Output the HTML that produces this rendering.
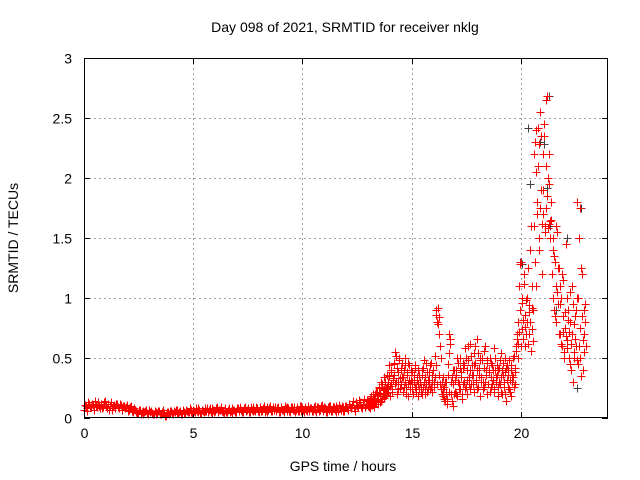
<!DOCTYPE html>
<html><head><meta charset="utf-8"><style>
body{margin:0;background:#fff}
svg{display:block;font-family:"Liberation Sans",sans-serif}
</style></head><body>
<svg id="chart" width="640" height="480">
<rect x="0" y="0" width="640" height="480" fill="#fff"/>
<text x="345" y="32" font-size="14" text-anchor="middle">Day 098 of 2021, SRMTID for receiver nklg</text>
<text x="343" y="471" font-size="14" text-anchor="middle">GPS time / hours</text>
<text x="18" y="238" font-size="14" text-anchor="middle" transform="rotate(-90 18 238)">SRMTID / TECUs</text>
<g id="grid"></g>
<g id="ticks"></g>
<g id="marks"></g>
<rect x="84.5" y="58.5" width="523" height="359" fill="none" stroke="#000" stroke-width="1"/>
</svg>
<script>
const xTicks=[0,5,10,15,20];
const yTicks=[0,0.5,1,1.5,2,2.5,3];
const yTickLabels=["0","0.5","1","1.5","2","2.5","3"];
const lowStartHour=0, lowStepHour=0.08;
const lowValues=[.07,.10,.08,.12,.09,.11,.07,.10,.13,.08,
.11,.09,.14,.08,.12,.10,.07,.11,.09,.12,
.08,.11,.07,.10,.09,.06,.08,.10,.05,.07,
.06,.04,.07,.05,.03,.06,.04,.07,.05,.04,
.03,.05,.04,.06,.03,.05,.04,.02,.05,.04,
.06,.03,.05,.07,.04,.06,.03,.05,.04,.06,
.05,.07,.04,.06,.08,.05,.07,.04,.06,.08,
.06,.05,.08,.04,.07,.06,.09,.05,.07,.06,
.04,.07,.05,.08,.06,.04,.07,.05,.08,.06,
.07,.05,.09,.06,.08,.05,.07,.09,.06,.08,
.05,.08,.06,.10,.07,.05,.08,.06,.09,.07,
.06,.09,.05,.08,.07,.10,.06,.08,.05,.09,
.07,.05,.09,.06,.10,.08,.05,.07,.09,.06,
.08,.06,.10,.05,.09,.07,.11,.06,.08,.05,
.07,.10,.06,.09,.05,.08,.11,.07,.09,.06,
.10,.07,.12,.08,.14,.06,.11,.09,.13,.08,
.12,.09,.15];
const low2StartHour=0.04;
const lowValues2=[.11,.06,.13,.09,.12,.07,.14,.09,.10,.12,
.08,.13,.10,.12,.07,.13,.10,.08,.12,.09,
.12,.07,.10,.08,.11,.07,.09,.06,.08,.05,
.04,.07,.03,.06,.05,.07,.03,.05,.06,.03,
.06,.03,.06,.03,.05,.07,.02,.05,.03,.06,
.04,.06,.07,.04,.05,.03,.07,.04,.07,.05,
.08,.05,.07,.05,.06,.08,.04,.07,.05,.06,
.08,.07,.05,.08,.05,.08,.05,.07,.09,.05,
.08,.05,.07,.05,.08,.07,.05,.08,.06,.09,
.05,.08,.06,.07,.05,.09,.06,.07,.09,.06,
.09,.06,.08,.05,.09,.07,.10,.06,.07,.09,
.08,.05,.09,.07,.05,.08,.09,.06,.09,.07,
.09,.07,.06,.10,.06,.07,.09,.06,.10,.08,
.06,.09,.07,.09,.06,.10,.08,.09,.05,.09,
.10,.06,.09,.07,.10,.06,.08,.10,.06,.10,
.08,.12,.09,.11,.08,.13,.10,.15,.09,.12,
.16,.11,.14];
const highStartHour=13, highStepHour=0.04;
const highValues=[.10,.14,.08,.12,.18,.11,.15,.09,.20,.13,
.16,.22,.12,.25,.18,.14,.28,.20,.17,.24,
.30,.19,.26,.22,.35,.18,.28,.40,.24,.33,
.45,.28,.52,.20,.38,.30,.48,.25,.42,.34,
.22,.40,.30,.50,.26,.36,.18,.44,.28,.32,
.24,.38,.20,.30,.42,.26,.34,.18,.28,.36,
.30,.22,.40,.26,.48,.20,.34,.28,.38,.24,
.32,.44,.26,.36,.22,.40,.30,.52,.90,.28,
.78,.84,.36,.60,.24,.30,.18,.26,.14,.22,
.30,.12,.45,.70,.62,.20,.34,.10,.28,.40,
.22,.36,.18,.46,.28,.50,.24,.38,.16,.42,
.30,.58,.26,.40,.20,.48,.34,.62,.28,.44,
.36,.54,.22,.46,.30,.66,.26,.42,.18,.50,
.34,.48,.24,.56,.30,.40,.20,.46,.28,.38,
.50,.26,.44,.32,.58,.22,.40,.30,.36,.18,
.42,.28,.54,.34,.20,.46,.30,.38,.14,.44,
.26,.36,.48,.22,.40,.30,.34,.52,.28,.38,
.56,.70,.62,1.10,.90,1.30,.74,.96,.66,1.20,
.60,.98,.80,1.25,.70,.88,1.40,.56,.92,.64,
1.60,2.30,1.10,2.40,1.80,2.10,1.40,2.55,1.90,1.20,
2.20,1.70,2.35,1.55,2.65,1.85,2.00,1.62,2.20,1.50,
1.65,1.20,1.40,.90,1.30,1.10,.80,1.55,.95,1.25,
.70,1.00,.60,.85,1.15,.55,.75,1.45,.65,.90,
.50,.80,1.05,.40,.70,.95,.55,.85,.60,1.00,
1.80,.45,1.50,.75,.35,1.20,.65,.90,.55,.80];
const high2StartHour=13.02;
const highValues2=[.12,.09,.16,.11,.14,.20,.10,.17,.13,.22,
.19,.15,.26,.13,.21,.30,.16,.23,.34,.20,
.25,.36,.21,.30,.44,.27,.38,.22,.32,.46,
.36,.55,.30,.42,.24,.50,.33,.40,.28,.46,
.34,.26,.44,.20,.38,.28,.46,.32,.24,.40,
.30,.20,.36,.26,.44,.22,.32,.40,.24,.30,
.26,.36,.20,.42,.30,.24,.46,.22,.32,.28,
.38,.24,.46,.30,.40,.26,.34,.44,.86,.80,
.92,.70,.28,.50,.20,.34,.24,.16,.30,.20,
.16,.36,.22,.54,.66,.30,.14,.40,.20,.32,
.40,.20,.50,.30,.24,.42,.34,.20,.46,.28,
.44,.24,.50,.32,.60,.28,.40,.24,.52,.36,
.28,.44,.60,.32,.40,.24,.54,.36,.48,.30,
.50,.30,.42,.26,.60,.36,.48,.28,.40,.22,
.34,.46,.28,.40,.24,.50,.34,.44,.26,.40,
.30,.48,.22,.40,.36,.26,.50,.20,.42,.32,
.40,.24,.32,.44,.18,.36,.50,.26,.42,.60,
.66,.50,.80,.72,1.28,.60,1.00,.82,1.12,.76,
.86,.70,1.00,.62,.94,.80,1.60,.74,1.10,.90,
2.20,1.30,2.05,1.70,2.42,1.50,2.28,1.75,2.35,1.62,
1.90,2.45,1.60,2.10,1.75,2.68,1.58,1.95,1.64,1.80,
1.20,1.50,1.00,1.35,.85,1.60,1.05,1.25,.70,1.10,
.95,.62,1.20,.72,.50,.88,.68,1.00,.58,.82,
.72,.45,.62,1.10,.30,.78,.50,.66,.90,.48,
1.00,.60,1.75,.50,1.25,.85,.40,.70,.95,.60];
const grayHours=[19.95,20.05,20.35,20.45,20.9,21.05,21.2,21.3,21.35,21.6,22.1,22.6,22.75];
const grayValues=[1.30,1.28,2.42,1.95,2.30,2.28,1.92,2.68,1.60,0.90,1.50,0.25,1.75];

const X0=84,X1=608,Y0=418,Y1=58,XMAX=24,YMAX=3;
const xs=h=>X0+(X1-X0)*h/XMAX;
const ys=v=>Y0-(Y0-Y1)*v/YMAX;
const NS="http://www.w3.org/2000/svg";
const grid=document.getElementById('grid'),ticks=document.getElementById('ticks'),marks=document.getElementById('marks');
function mk(tag,attrs,parent){const e=document.createElementNS(NS,tag);for(const k in attrs)e.setAttribute(k,attrs[k]);parent.appendChild(e);return e;}
const px=v=>Math.round(v)+0.5;
xTicks.forEach(t=>{
  const x=px(xs(t));
  if(t>0){const g=mk('line',{x1:x,x2:x,y1:Y1,y2:Y0,stroke:'#a0a0a0','stroke-dasharray':'2,3'},grid);
  
  }
  mk('path',{d:`M${x},${Y0}v-6M${x},${Y1}v6`,stroke:'#000'},ticks);
  const l=mk('text',{x:x,y:Y0+20,'font-size':14,'text-anchor':'middle'},ticks);
  l.textContent=t;
  
  
});
yTicks.forEach((t,i)=>{
  const y=px(ys(t));
  if(t>0&&t<YMAX){const g=mk('line',{x1:X0,x2:X1,y1:y,y2:y,stroke:'#a0a0a0','stroke-dasharray':'2,3'},grid);
  
  }
  mk('path',{d:`M${X0},${y}h6M${X1},${y}h-6`,stroke:'#000'},ticks);
  const l=mk('text',{x:X0-12,y:y+5,'font-size':14,'text-anchor':'end'},ticks);
  l.textContent=yTickLabels[i];
  
  
});
function plus(h,v){const x=px(xs(h)),y=px(ys(v));return `M${x-4},${y}h8M${x},${y-4}v8`;}
let dg='';
grayValues.forEach((v,i)=>{dg+=plus(grayHours[i],v);});
let d='';
lowValues.forEach((v,i)=>{d+=plus(lowStartHour+i*lowStepHour,v);});
lowValues2.forEach((v,i)=>{d+=plus(low2StartHour+i*lowStepHour,v);});
highValues.forEach((v,i)=>{d+=plus(highStartHour+i*highStepHour,v);});
highValues2.forEach((v,i)=>{d+=plus(high2StartHour+i*highStepHour,v);});
const pg=mk('path',{d:dg,stroke:'#404040','stroke-width':1,fill:'none'},marks);


const p=mk('path',{d:d,stroke:'#ff0000','stroke-width':1,fill:'none'},marks);


</script>
</body></html>
